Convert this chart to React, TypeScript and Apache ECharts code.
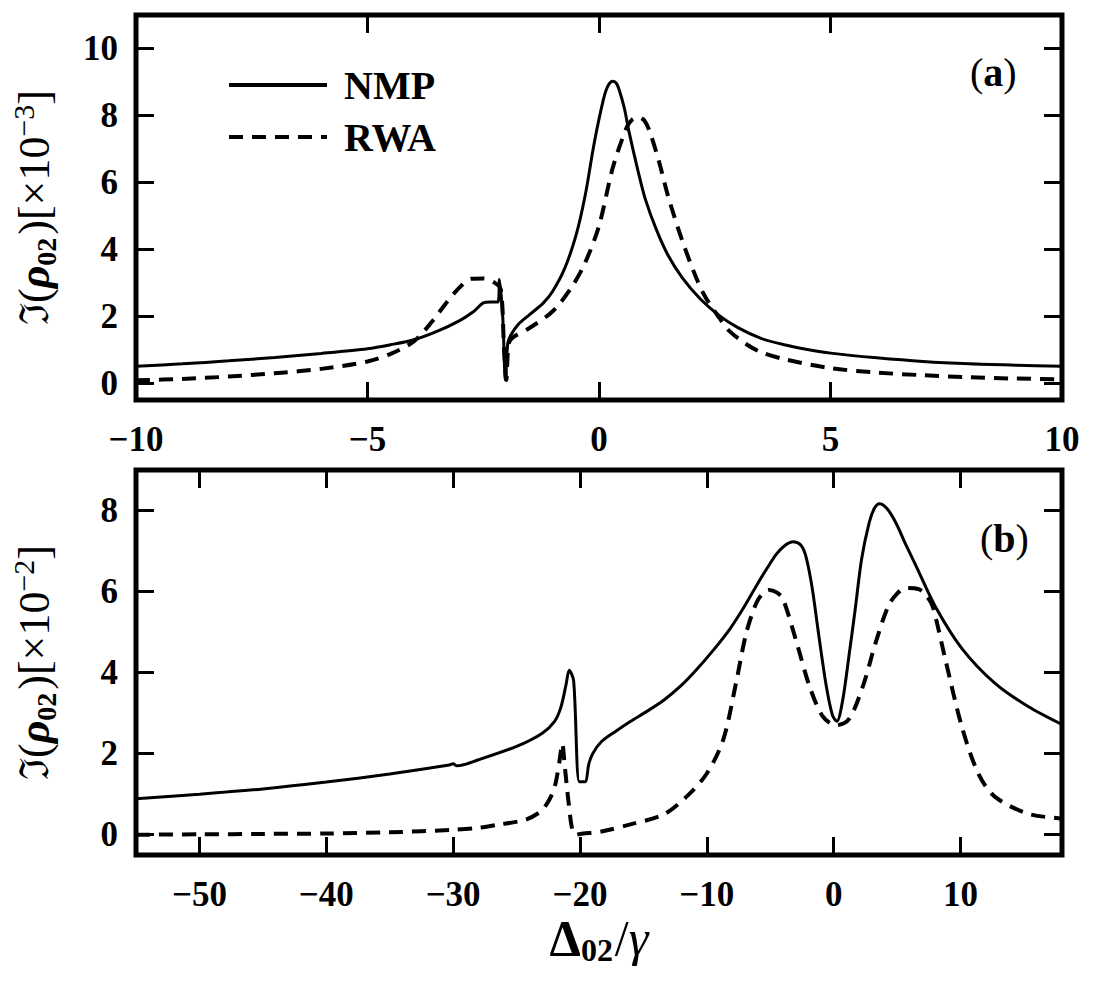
import React, { useEffect, useRef } from 'react';
import * as echarts from 'echarts';

// Panel (a): x in units of Delta_02/gamma, y in units of 1e-3
const A_NMP_X = [-10, -9, -8, -7, -6, -5, -4.5, -4, -3.5, -3.0, -2.7, -2.5, -2.35, -2.18, -2.15, -2.08, -2.02, -1.97, -1.9, -1.75, -1.5, -1.2, -1.0, -0.75, -0.5, -0.3, -0.1, 0.1, 0.2, 0.3, 0.38, 0.45, 0.55, 0.65, 0.85, 1.0, 1.25, 1.5, 1.8, 2.2, 2.6, 3.0, 3.5, 4.0, 4.5, 5.0, 6.0, 7.0, 8.0, 9.0, 10];
const A_NMP_Y = [0.51, 0.58, 0.67, 0.77, 0.89, 1.03, 1.15, 1.3, 1.55, 1.88, 2.15, 2.4, 2.43, 2.43, 3.1, 2.0, 0.1, 1.2, 1.45, 1.75, 2.05, 2.4, 2.75, 3.4, 4.4, 5.6, 7.2, 8.5, 8.9, 9.02, 8.95, 8.7, 8.2, 7.5, 6.3, 5.5, 4.55, 3.8, 3.15, 2.5, 2.02, 1.66, 1.34, 1.15, 1.01, 0.9, 0.76, 0.65, 0.58, 0.54, 0.51];
const A_RWA_X = [-10, -9, -8, -7, -6, -5, -4.5, -4.0, -3.6, -3.3, -3.0, -2.75, -2.5, -2.25, -2.12, -2.05, -2.0, -1.95, -1.85, -1.5, -1.0, -0.6, -0.3, 0.0, 0.3, 0.6, 0.72, 0.85, 0.98, 1.1, 1.3, 1.5, 1.8, 2.1, 2.3, 2.6, 2.8, 3.2, 3.5, 4.0, 5.0, 6.0, 7.0, 8.0, 9.0, 10];
const A_RWA_Y = [0.09, 0.13, 0.2, 0.3, 0.43, 0.65, 0.88, 1.25, 1.85, 2.4, 2.88, 3.12, 3.13, 3.0, 2.8, 1.0, 0.1, 1.2, 1.38, 1.65, 2.15, 2.85, 3.6, 4.7, 6.45, 7.65, 7.88, 7.95, 7.85, 7.5, 6.6, 5.55, 4.25, 3.15, 2.57, 1.95, 1.58, 1.15, 0.93, 0.72, 0.45, 0.32, 0.24, 0.18, 0.14, 0.12];

// Panel (b): y in units of 1e-2
const B_NMP_X = [-55, -50, -45, -40, -35, -30.3, -30, -29.7, -28, -25, -23, -22, -21.5, -21.1, -20.85, -20.5, -20.05, -19.6, -19.3, -19.0, -18.3, -17.2, -16, -14.7, -13.4, -12.1, -10.8, -9.5, -8.2, -7.1, -6.1, -5.2, -4.5, -3.8, -3.2, -2.6, -2.2, -1.7, -1.2, -0.6, -0.1, 0.25, 0.7, 1.2, 1.7, 2.2, 2.8, 3.2, 3.6, 4.2, 4.9, 5.7, 6.5, 8.0, 10.1, 12.7, 15.3, 18];
const B_NMP_Y = [0.89, 1.0, 1.13, 1.3, 1.5, 1.72, 1.75, 1.7, 1.85, 2.18, 2.5, 2.8, 3.15, 3.7, 4.06, 3.8, 1.31, 1.31, 1.75, 2.0, 2.3, 2.55, 2.8, 3.05, 3.32, 3.66, 4.08, 4.55, 5.07, 5.6, 6.14, 6.6, 6.93, 7.15, 7.23, 7.15, 6.88, 6.1, 4.98, 3.7, 2.95, 2.8, 3.3, 4.4, 5.57, 6.8, 7.7, 8.05, 8.17, 8.05, 7.7, 7.15, 6.63, 5.64, 4.6, 3.74, 3.17, 2.72];
const B_RWA_X = [-55, -50, -45, -40, -35, -30, -28, -26.4, -24.3, -23.2, -22.7, -22.2, -21.9, -21.6, -21.4, -21.2, -20.9, -20.6, -20.3, -20.0, -18.3, -16.1, -13.4, -11.6, -10.0, -8.7, -7.7, -6.9, -6.1, -5.6, -5.1, -4.5, -4.0, -3.0, -1.9, -0.86, 0.18, 1.2, 2.3, 3.3, 4.3, 5.0, 5.7, 6.7, 7.3, 7.8, 8.8, 10.1, 11.4, 12.7, 15.3, 18];
const B_RWA_Y = [0.0, 0.01, 0.02, 0.03, 0.06, 0.12, 0.17, 0.25, 0.37, 0.55, 0.72, 1.0, 1.3, 1.85, 2.25, 1.7, 0.8, 0.12, 0.0, 0.02, 0.08, 0.25, 0.5, 0.94, 1.51, 2.35, 3.74, 4.97, 5.72, 5.95, 6.04, 5.98, 5.82, 4.83, 3.66, 2.92, 2.7, 2.85, 3.66, 4.73, 5.64, 5.95, 6.09, 6.06, 5.9, 5.64, 4.33, 2.67, 1.51, 0.94, 0.52, 0.4];

const A_X_TICKS = [-10, -5, 0, 5, 10];
const A_Y_TICKS = [0, 2, 4, 6, 8, 10];
const B_X_TICKS = [-50, -40, -30, -20, -10, 0, 10];
const B_Y_TICKS = [0, 2, 4, 6, 8];

const SERIES_NAMES = ['NMP', 'RWA'];

const zip = (xs: number[], ys: number[]) => xs.map((x, i) => [x, ys[i]]);
const fmt = (v: number) => (v < 0 ? '\u2212' + Math.abs(v) : String(v));

const SERIF = "'Liberation Serif', 'DejaVu Serif', serif";
const DJV = "'DejaVu Serif', serif";

export default function App() {
  const ref = useRef<HTMLDivElement>(null);
  useEffect(() => {
    const chart = echarts.init(ref.current!, null, { renderer: 'svg' });

    const labelStyle = {
      fontFamily: SERIF,
      fontWeight: 'bold' as const,
      fontSize: 35,
      color: '#000',
    };
    const tick = (vals: number[]) => ({
      show: true,
      inside: true,
      length: 18,
      customValues: vals,
      lineStyle: { color: '#000', width: 3 },
    });

    const yName = (exp: string) => `{f|ℑ}{n|(}{r|ρ}{s|02}{n|)[×10}{u|−${exp}}{n|]}`;
    const yNameStyle = {
      rich: {
        f: { fontFamily: DJV, fontSize: 40, color: '#000', lineHeight: 52, verticalAlign: 'middle' },
        n: { fontFamily: SERIF, fontSize: 44, color: '#000', lineHeight: 52, verticalAlign: 'middle' },
        r: { fontFamily: SERIF, fontSize: 44, fontStyle: 'italic', fontWeight: 'bold', color: '#000', lineHeight: 52, verticalAlign: 'middle' },
        s: { fontFamily: SERIF, fontSize: 28, fontWeight: 'bold', color: '#000', lineHeight: 52, verticalAlign: 'bottom', padding: [0, 3, 0, 0] },
        u: { fontFamily: SERIF, fontSize: 30, color: '#000', lineHeight: 52, verticalAlign: 'top' },
      },
    };

    const axisBase = (grid: number, min: number, max: number, ticks: number[], pos: string, labels: boolean, margin: number) => ({
      type: 'value' as const,
      gridIndex: grid,
      position: pos,
      min,
      max,
      axisLine: { show: false, onZero: false },
      axisTick: tick(ticks),
      axisLabel: labels
        ? { show: true, customValues: ticks, formatter: fmt, margin, ...labelStyle }
        : { show: false },
      splitLine: { show: false },
    });

    const solid = { color: '#000', width: 3, type: 'solid' as const };
    const dashed = { color: '#000', width: 4, type: [14, 9] };

    const option: any = {
      animation: false,
      backgroundColor: '#fff',
      grid: [
        { left: 132, top: 15, width: 930, height: 385, show: true, borderColor: '#000', borderWidth: 5, backgroundColor: 'transparent' },
        { left: 132, top: 470, width: 930, height: 385, show: true, borderColor: '#000', borderWidth: 5, backgroundColor: 'transparent' },
      ],
      xAxis: [
        axisBase(0, -10, 10, A_X_TICKS, 'bottom', true, 22),
        axisBase(0, -10, 10, A_X_TICKS, 'top', false, 0),
        {
          ...axisBase(1, -55, 18, B_X_TICKS, 'bottom', true, 22),
          name: '{d|Δ}{s|02}{n|/}{g|γ}',
          nameLocation: 'middle',
          nameGap: 52,
          nameTextStyle: {
            rich: {
              d: { fontFamily: SERIF, fontSize: 50, fontWeight: 'bold', color: '#000', lineHeight: 56, verticalAlign: 'middle' },
              s: { fontFamily: SERIF, fontSize: 32, fontWeight: 'bold', color: '#000', lineHeight: 56, verticalAlign: 'bottom', padding: [0, 2, 0, 0] },
              n: { fontFamily: SERIF, fontSize: 50, color: '#000', lineHeight: 56, verticalAlign: 'middle' },
              g: { fontFamily: SERIF, fontSize: 50, fontStyle: 'italic', color: '#000', lineHeight: 56, verticalAlign: 'middle' },
            },
          },
        },
        axisBase(1, -55, 18, B_X_TICKS, 'top', false, 0),
      ],
      yAxis: [
        {
          ...axisBase(0, -0.5, 11, A_Y_TICKS, 'left', true, 18),
          name: yName('3'),
          nameLocation: 'middle',
          nameGap: 76,
          nameTextStyle: yNameStyle,
        },
        axisBase(0, -0.5, 11, A_Y_TICKS, 'right', false, 0),
        {
          ...axisBase(1, -0.5, 9, B_Y_TICKS, 'left', true, 18),
          name: yName('2'),
          nameLocation: 'middle',
          nameGap: 76,
          nameTextStyle: yNameStyle,
        },
        axisBase(1, -0.5, 9, B_Y_TICKS, 'right', false, 0),
      ],
      legend: {
        show: true,
        orient: 'vertical',
        left: 222,
        top: 60,
        itemWidth: 98,
        itemHeight: 14,
        itemGap: 12,
        selectedMode: false,
        data: SERIES_NAMES,
        itemStyle: { opacity: 0 },
        lineStyle: { width: 4 },
        textStyle: {
          fontFamily: SERIF,
          fontWeight: 'bold',
          fontSize: 40,
          color: '#000',
          padding: [0, 0, 0, 12],
        },
      },
      graphic: [
        {
          type: 'text',
          left: 970,
          top: 52,
          style: {
            text: '{p|(}{b|a}{p|)}',
            rich: {
              p: { fontFamily: SERIF, fontSize: 40, fill: '#000' },
              b: { fontFamily: SERIF, fontSize: 40, fontWeight: 'bold', fill: '#000' },
            },
          },
        },
        {
          type: 'text',
          left: 980,
          top: 518,
          style: {
            text: '{p|(}{b|b}{p|)}',
            rich: {
              p: { fontFamily: SERIF, fontSize: 40, fill: '#000' },
              b: { fontFamily: SERIF, fontSize: 40, fontWeight: 'bold', fill: '#000' },
            },
          },
        },
      ],
      series: [
        { name: SERIES_NAMES[0], type: 'line', xAxisIndex: 0, yAxisIndex: 0, data: zip(A_NMP_X, A_NMP_Y), symbol: 'none', smooth: 0.3, lineStyle: solid, itemStyle: { color: '#000' } },
        { name: SERIES_NAMES[1], type: 'line', xAxisIndex: 0, yAxisIndex: 0, data: zip(A_RWA_X, A_RWA_Y), symbol: 'none', smooth: 0.3, lineStyle: dashed, itemStyle: { color: '#000' } },
        { name: SERIES_NAMES[0], type: 'line', xAxisIndex: 2, yAxisIndex: 2, data: zip(B_NMP_X, B_NMP_Y), symbol: 'none', smooth: 0.3, lineStyle: solid, itemStyle: { color: '#000' } },
        { name: SERIES_NAMES[1], type: 'line', xAxisIndex: 2, yAxisIndex: 2, data: zip(B_RWA_X, B_RWA_Y), symbol: 'none', smooth: 0.3, lineStyle: dashed, itemStyle: { color: '#000' } },
      ],
    };

    chart.setOption(option);
    return () => chart.dispose();
  }, []);
  return (
    <div
      ref={ref}
      style={{ position: 'fixed', left: 0, top: 0, width: 1101, height: 986, background: '#fff' }}
    />
  );
}
